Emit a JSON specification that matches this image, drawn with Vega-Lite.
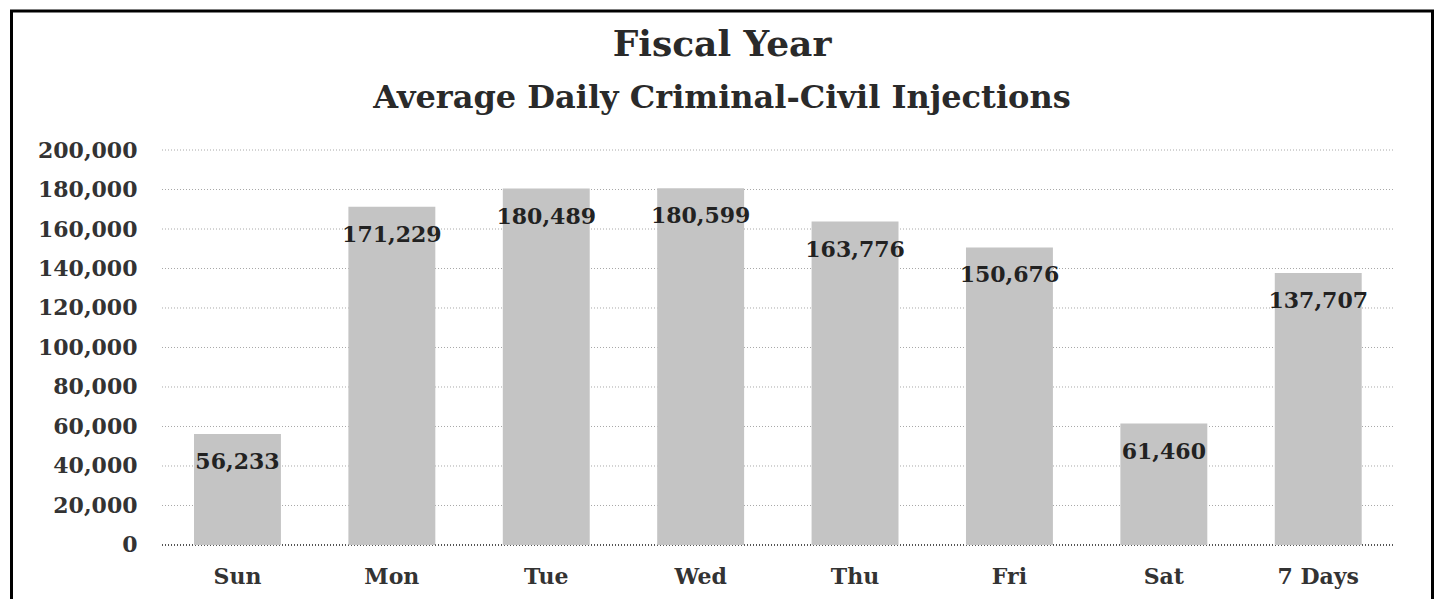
{
  "$schema": "https://vega.github.io/schema/vega-lite/v6.json",
  "width": 1421,
  "height": 600,
  "autosize": {"type": "none"},
  "padding": {"left": 11.5, "top": 11, "right": 8, "bottom": 0},
  "background": "white",
  "title": {
    "text": "Fiscal Year",
    "subtitle": "Average Daily Criminal-Civil Injections",
    "font": "DejaVu Serif",
    "fontSize": 36,
    "fontWeight": "bold",
    "color": "#2a2a2a",
    "subtitleFont": "DejaVu Serif",
    "subtitleFontSize": 32,
    "subtitleFontWeight": "bold",
    "subtitleColor": "#2a2a2a",
    "subtitlePadding": 19,
    "anchor": "middle",
    "frame": "group",
    "offset": -104
  },
  "config": {"view": {"stroke": "black", "strokeWidth": 3, "fill": "white"}},
  "data": {
    "values": [
      {"day": "Sun", "value": 56233},
      {"day": "Mon", "value": 171229},
      {"day": "Tue", "value": 180489},
      {"day": "Wed", "value": 180599},
      {"day": "Thu", "value": 163776},
      {"day": "Fri", "value": 150676},
      {"day": "Sat", "value": 61460},
      {"day": "7 Days", "value": 137707}
    ]
  },
  "resolve": {"scale": {"x": "independent"}, "axis": {"x": "independent"}},
  "layer": [
    {
      "data": {"values": [{"v": 0}, {"v": 20000}, {"v": 40000}, {"v": 60000}, {"v": 80000}, {"v": 100000}, {"v": 120000}, {"v": 140000}, {"v": 160000}, {"v": 180000}, {"v": 200000}]},
      "mark": {"type": "rule", "strokeDash": [1, 2]},
      "encoding": {
        "y": {
          "field": "v",
          "type": "quantitative",
          "scale": {"domain": [-33418, 270380], "nice": false, "zero": false},
          "axis": {
            "title": null,
            "values": [0, 20000, 40000, 60000, 80000, 100000, 120000, 140000, 160000, 180000, 200000],
            "format": ",.0f",
            "grid": false,
            "domain": false,
            "ticks": false,
            "offset": -150.5,
            "labelPadding": 25,
            "labelFont": "DejaVu Serif",
            "labelFontSize": 22,
            "labelFontWeight": "bold",
            "labelColor": "#333333"
          }
        },
        "x": {"datum": 0, "type": "quantitative", "scale": {"domain": [-0.12206, 1.03041], "nice": false, "zero": false}, "axis": null},
        "x2": {"datum": 1},
        "color": {"condition": {"test": "datum.v === 0", "value": "#555555"}, "value": "#a8a8a8"},
        "strokeWidth": {"condition": {"test": "datum.v === 0", "value": 2}, "value": 1}
      }
    },
    {
      "encoding": {
        "x": {
          "field": "day",
          "type": "nominal",
          "sort": null,
          "scale": {"paddingInner": 0.437, "paddingOuter": 0.8203, "align": 0.7205},
          "axis": {
            "title": null,
            "orient": "bottom",
            "offset": -66,
            "domain": false,
            "ticks": false,
            "labelAngle": 0,
            "labelPadding": 21,
            "labelFont": "DejaVu Serif",
            "labelFontSize": 22,
            "labelFontWeight": "bold",
            "labelColor": "#333333"
          }
        }
      },
      "layer": [
        {
          "mark": {"type": "bar", "color": "#c4c4c4"},
          "encoding": {
            "y": {
              "field": "value",
              "type": "quantitative",
              "scale": {"domain": [-33418, 270380], "nice": false, "zero": false},
              "axis": {
                "title": null,
                "values": [0, 20000, 40000, 60000, 80000, 100000, 120000, 140000, 160000, 180000, 200000],
                "format": ",.0f",
                "grid": false,
                "domain": false,
                "ticks": false,
                "offset": -150.5,
                "labelPadding": 25,
                "labelFont": "DejaVu Serif",
                "labelFontSize": 22,
                "labelFontWeight": "bold",
                "labelColor": "#333333"
              }
            }
          }
        },
        {
          "mark": {"type": "text", "baseline": "middle", "align": "center", "dy": 28, "font": "DejaVu Serif", "fontSize": 22, "fontWeight": "bold", "color": "#222222"},
          "encoding": {
            "y": {
              "field": "value",
              "type": "quantitative",
              "scale": {"domain": [-33418, 270380], "nice": false, "zero": false},
              "axis": {
                "title": null,
                "values": [0, 20000, 40000, 60000, 80000, 100000, 120000, 140000, 160000, 180000, 200000],
                "format": ",.0f",
                "grid": false,
                "domain": false,
                "ticks": false,
                "offset": -150.5,
                "labelPadding": 25,
                "labelFont": "DejaVu Serif",
                "labelFontSize": 22,
                "labelFontWeight": "bold",
                "labelColor": "#333333"
              }
            },
            "text": {"field": "value", "type": "quantitative", "format": ","}
          }
        }
      ]
    }
  ]
}
